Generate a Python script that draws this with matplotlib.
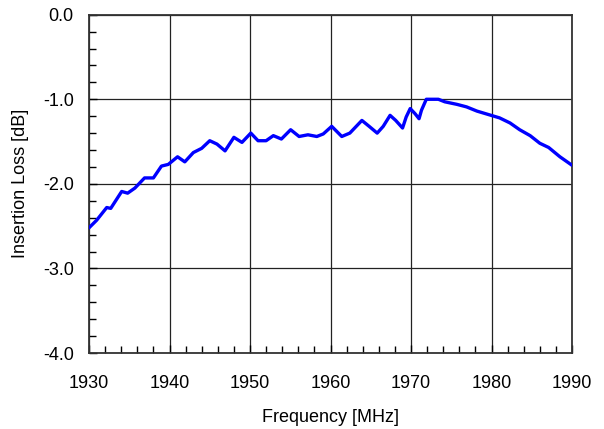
import matplotlib
matplotlib.use("Agg")
import matplotlib.pyplot as plt
from matplotlib.ticker import MultipleLocator, FixedLocator, FixedFormatter

freq = [1930.0, 1930.95, 1932.2, 1932.7, 1934.06, 1934.8, 1935.7, 1936.9, 1938.0,
        1939.0, 1939.85, 1941.0, 1941.9, 1942.96, 1944.0, 1945.0, 1945.9, 1946.9,
        1948.0, 1949.0, 1950.1, 1951.0, 1952.0, 1952.9, 1953.9, 1955.05, 1956.1,
        1957.2, 1958.3, 1959.1, 1960.15, 1961.4, 1962.4, 1963.9, 1964.8, 1965.8,
        1966.55, 1967.4, 1968.1, 1968.95, 1969.4, 1969.9, 1970.5, 1971.0, 1971.3,
        1971.9, 1973.4, 1974.2, 1975.7, 1976.9, 1978.2, 1979.6, 1981.0, 1982.3,
        1983.5, 1984.8, 1986.0, 1987.1, 1988.5, 1990.0]
loss = [-2.52, -2.43, -2.28, -2.29, -2.09, -2.11, -2.05, -1.93, -1.93,
        -1.79, -1.77, -1.68, -1.74, -1.63, -1.58, -1.49, -1.53, -1.61,
        -1.45, -1.51, -1.40, -1.49, -1.49, -1.43, -1.47, -1.36, -1.44,
        -1.42, -1.44, -1.41, -1.32, -1.44, -1.40, -1.25, -1.32, -1.40,
        -1.32, -1.19, -1.25, -1.34, -1.21, -1.11, -1.17, -1.23, -1.13,
        -1.00, -1.00, -1.03, -1.06, -1.09, -1.14, -1.18, -1.22, -1.28,
        -1.36, -1.43, -1.52, -1.57, -1.68, -1.78]

x_ticks = [1930, 1940, 1950, 1960, 1970, 1980, 1990]
y_ticks = [-4.0, -3.0, -2.0, -1.0, 0.0]
y_labels = ["-4.0", "-3.0", "-2.0", "-1.0", "0.0"]

plt.rcParams['font.family'] = ['Liberation Sans', 'DejaVu Sans']

fig = plt.figure(figsize=(6.04, 4.29), dpi=100)
ax = fig.add_axes([89/604, 1-353/429, (572-89)/604, (353-14.7)/429])

ax.plot(freq, loss, color='#0000ff', lw=2.4, solid_joinstyle='round',
        solid_capstyle='round', zorder=3)

ax.set_xlim(1930, 1990)
ax.set_ylim(-4.0, 0.0)
ax.xaxis.set_major_locator(FixedLocator(x_ticks))
ax.xaxis.set_minor_locator(MultipleLocator(2))
ax.yaxis.set_major_locator(FixedLocator(y_ticks))
ax.yaxis.set_major_formatter(FixedFormatter(y_labels))
ax.yaxis.set_minor_locator(MultipleLocator(0.2))

ax.grid(True, which='major', color='#222222', lw=0.9)
ax.tick_params(which='both', direction='in', labelsize=13, colors='black')
ax.tick_params(which='major', length=6, width=1)
ax.tick_params(which='minor', length=5, width=1)
ax.tick_params(axis='x', which='major', pad=16)
ax.tick_params(axis='y', which='major', pad=11)
for s in ax.spines.values():
    s.set_color('#333333')
    s.set_linewidth(1.3)

ax.set_xlabel('Frequency [MHz]', fontsize=13, labelpad=12)
ax.set_ylabel('Insertion Loss [dB]', fontsize=13, labelpad=10)

fig.savefig('out.png', dpi=100)
